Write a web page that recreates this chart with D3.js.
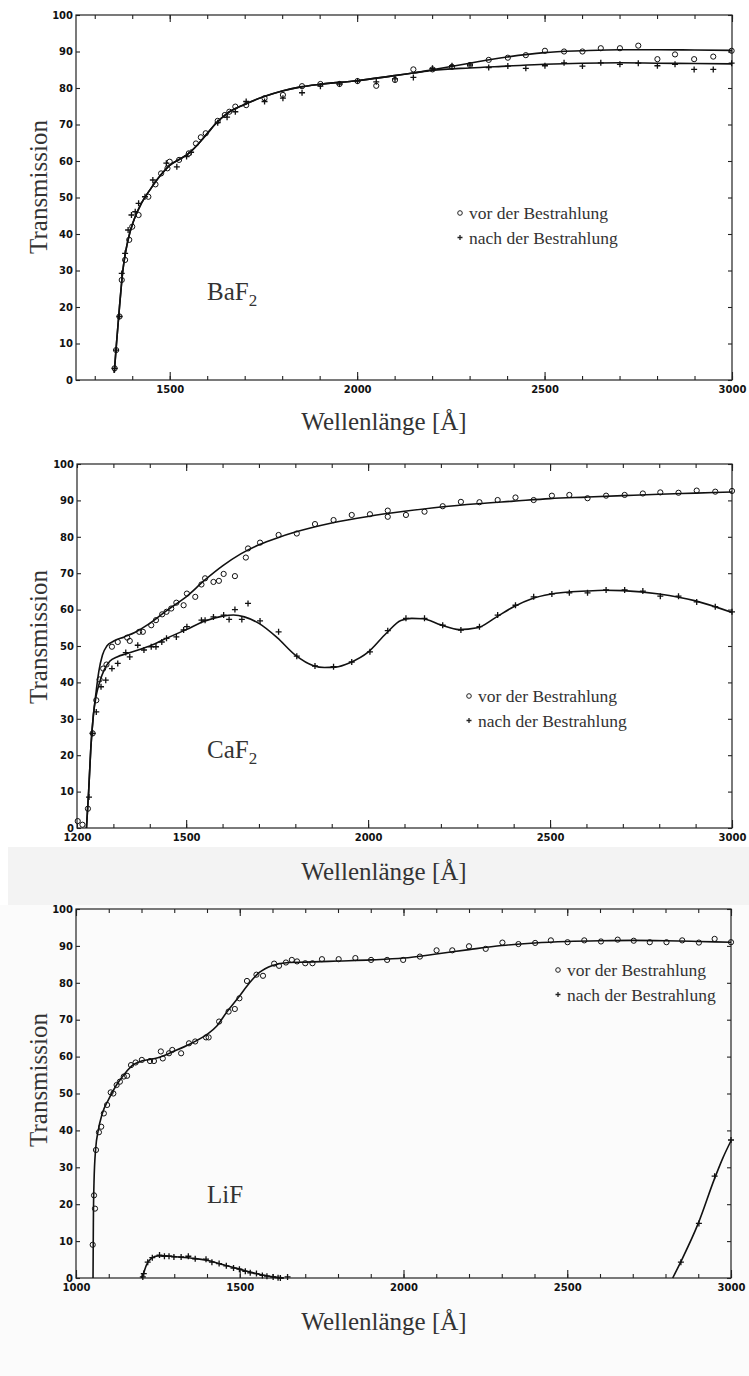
<!DOCTYPE html>
<html>
<head>
<meta charset="utf-8">
<script src="https://cdn.jsdelivr.net/npm/d3@7"></script>
<style>
body { margin: 0; background: #fff; }
svg { display: block; }
.serif { font-family: "Liberation Serif", "Times New Roman", serif; fill: #333; }
</style>
</head>
<body>
<svg id="chart" width="749" height="1376"></svg>
<script>
// ---- shared tick labels ----
var yTickLabels = [0, 10, 20, 30, 40, 50, 60, 70, 80, 90, 100];
var baf2XLabels = [1500, 2000, 2500, 3000];
var caf2XLabels = [1200, 1500, 2000, 2500, 3000];
var lifXLabels = [1000, 1500, 2000, 2500, 3000];
var legendLabels = ["vor der Bestrahlung", "nach der Bestrahlung"];

// ---- BaF2 ----
var baf2Vor = [[1353,3.2],[1357,8.2],[1366,17.4],[1372,27.4],[1381,32.9],[1392,38.4],[1400,42],[1417,45.2],
  [1443,50.2],[1462,53.6],[1477,56.6],[1494,58],[1500,59.8],[1525,60.3],[1551,62.1],[1570,64.8],[1583,66.5],
  [1596,67.6],[1628,71],[1647,72.6],[1659,73.5],[1675,74.9],[1704,75.3],[1753,77.2],[1802,78.1],[1853,80.5],
  [1902,81.1],[1953,81.1],[2001,81.9],[2051,80.6],[2101,82.2],[2150,85.1],[2201,85.1],[2253,85.8],[2301,86.3],
  [2351,87.7],[2402,88.3],[2450,89],[2501,90.2],[2552,90],[2601,90],[2650,90.9],[2701,90.9],[2750,91.6],
  [2801,87.9],[2848,89.2],[2899,87.9],[2950,88.6],[2999,90.2]];
var baf2Nach = [[1353,3.2],[1357,8.2],[1366,17.4],[1372,29.2],[1381,34.7],[1389,41.1],[1398,45.2],[1408,46.1],
  [1417,48.4],[1434,50.2],[1455,54.8],[1491,59.4],[1519,58.4],[1545,61.2],[1557,62.4],[1628,70.5],[1653,72],
  [1675,73.5],[1704,76.3],[1753,76.3],[1802,77.2],[1853,78.7],[1902,80.5],[1953,81.1],[2001,81.9],[2051,81.7],
  [2101,82.5],[2150,82.9],[2201,85.4],[2253,86.1],[2301,86.3],[2351,85.6],[2402,86],[2450,85.4],[2501,86.1],
  [2552,86.9],[2601,86],[2650,86.9],[2701,86.5],[2750,86.8],[2801,86.1],[2848,86.5],[2899,85.1],[2950,85.1],
  [2999,86.8]];
var baf2VorFit = [[1352,2],[1358,10],[1366,20],[1375,30],[1388,38],[1405,44],[1425,48.5],[1450,52.5],[1475,56],
  [1500,58.8],[1525,60.4],[1550,62],[1575,64.5],[1600,67.5],[1625,70.5],[1650,72.8],[1700,75.5],[1750,77.6],
  [1800,79.2],[1850,80.3],[1900,81],[2000,82],[2100,83.4],[2150,84.1],[2200,85],[2300,86.8],[2400,88.5],
  [2500,89.7],[2600,90.2],[2700,90.5],[2800,90.5],[2900,90.4],[3000,90.3]];
var baf2NachFit = [[1352,2],[1358,10],[1366,20],[1375,30],[1388,38],[1405,44],[1425,48.5],[1450,52.5],[1475,56],
  [1500,58.8],[1525,60.4],[1550,62],[1575,64.5],[1600,67.5],[1625,70.5],[1650,72.8],[1700,75.5],[1750,77.6],
  [1800,79.2],[1850,80.3],[1900,81],[2000,82],[2100,83.4],[2150,84.1],[2200,84.8],[2300,85.5],[2400,86],
  [2500,86.5],[2600,86.8],[2700,86.9],[2800,86.8],[2900,86.7],[3000,86.6]];

// ---- CaF2 ----
var caf2Vor = [[1202,1.9],[1215,0.9],[1230,5.3],[1243,26],[1253,35.1],[1262,40.8],[1272,43.8],[1281,44.9],
  [1296,49.8],[1312,51.1],[1338,52.3],[1345,51.4],[1371,53.9],[1381,53.9],[1404,55.7],[1417,57.1],[1434,58.7],
  [1446,59.4],[1459,60.3],[1473,61.9],[1493,61.2],[1502,64.4],[1525,63.5],[1542,66.9],[1552,68.6],[1575,67.6],
  [1590,67.9],[1603,69.8],[1634,69.2],[1664,74.3],[1670,76.8],[1703,78.4],[1754,80.5],[1804,80.9],[1854,83.5],
  [1905,84.6],[1955,86],[2005,86.2],[2054,87.2],[2054,85.5],[2104,86],[2155,86.9],[2205,88.4],[2255,89.6],
  [2306,89.5],[2356,90.1],[2405,90.8],[2455,90.1],[2505,91.3],[2553,91.5],[2603,90.6],[2654,91.3],[2705,91.5],
  [2755,91.9],[2803,92.2],[2853,92.1],[2903,92.7],[2954,92.4],[3000,92.6]];
var caf2Nach = [[1233,8.5],[1243,26],[1253,31.9],[1266,38.8],[1279,40.6],[1296,43.8],[1312,45.2],[1334,48.2],
  [1345,47],[1367,50.2],[1384,48.9],[1404,49.8],[1417,49.8],[1433,51.1],[1446,52.1],[1473,52.5],[1493,54.4],
  [1502,55.3],[1542,57.1],[1552,57.1],[1575,58],[1603,58.5],[1618,57.3],[1634,60],[1653,57.3],[1670,61.7],
  [1703,56.9],[1754,53.9],[1804,47.2],[1854,44.5],[1905,44.3],[1955,45.6],[2005,48.4],[2054,54.2],[2104,57.6],
  [2155,57.6],[2205,55.7],[2255,54.4],[2306,55.3],[2356,58.5],[2405,61.2],[2455,63.5],[2505,64.3],[2553,64.6],
  [2603,64.6],[2654,65.4],[2705,65.4],[2755,65.1],[2803,63.7],[2853,63.7],[2903,62.1],[2954,60.8],[3000,59.4]];
var caf2VorFit = [[1226,0],[1232,10],[1238,22],[1245,31],[1252,37],[1260,43],[1270,47.5],[1282,50],[1300,51.3],
  [1330,52.5],[1360,53.8],[1400,56.2],[1450,60],[1500,63.5],[1550,68],[1600,72],[1650,75.3],[1700,77.8],
  [1750,79.7],[1800,81.3],[1900,83.8],[2000,85.6],[2100,87],[2200,88.2],[2300,89.1],[2400,89.8],[2500,90.5],
  [2600,90.9],[2700,91.3],[2800,91.7],[2900,92],[3000,92.3]];
var caf2NachFit = [[1226,0],[1232,10],[1238,22],[1245,31],[1252,36],[1262,40],[1275,43.5],[1290,45.8],[1310,47],
  [1340,48],[1370,49],[1400,50],[1450,52.3],[1500,54.5],[1550,56.8],[1600,58.2],[1630,58.5],[1660,58],
  [1700,56.2],[1750,52.3],[1800,47.5],[1850,44.6],[1880,44.1],[1910,44.2],[1950,45.4],[2000,48.3],[2050,53.5],
  [2090,57],[2120,57.6],[2150,57.5],[2200,55.8],[2250,54.5],[2300,55],[2350,57.8],[2400,60.8],[2450,63],
  [2500,64.2],[2600,65.1],[2650,65.3],[2700,65.2],[2800,64.3],[2900,62.4],[3000,59.2]];

// ---- LiF ----
var lifVor = [[1051,9],[1055,22.4],[1058,18.8],[1061,34.7],[1070,39.5],[1077,41],[1085,44.6],[1095,46.9],
  [1106,50.3],[1114,50],[1124,52.3],[1134,53.2],[1146,54.6],[1156,54.8],[1168,57.7],[1182,58.4],[1201,59.1],
  [1226,58.8],[1238,58.8],[1259,61.4],[1265,59.5],[1284,60.9],[1294,61.8],[1321,60.9],[1345,63.6],[1364,64.1],
  [1397,65.2],[1405,65.2],[1437,69.5],[1466,72.2],[1485,72.9],[1499,75.8],[1522,80.5],[1551,82.2],[1571,81.9],
  [1605,85.2],[1620,84.6],[1641,85.5],[1659,86.2],[1675,85.8],[1700,85.3],[1722,85.3],[1751,86.4],[1802,86.4],
  [1853,86.7],[1901,86.2],[1950,86.2],[1999,86.2],[2050,87.1],[2101,88.8],[2149,88.8],[2200,89.9],[2251,89.2],
  [2302,90.9],[2351,90.5],[2402,90.8],[2450,91.5],[2501,91],[2552,91.5],[2603,91.2],[2654,91.7],[2703,91.4],
  [2752,91],[2803,91],[2851,91.5],[2902,90.9],[2950,91.9],[3000,91]];
var lifNach = [[1204,0.3],[1207,1.2],[1219,4.3],[1233,5.5],[1255,6.2],[1270,5.9],[1284,5.9],[1299,5.7],
  [1321,5.7],[1343,5.9],[1364,5.2],[1397,5.1],[1415,4.3],[1437,3.9],[1459,3.3],[1481,2.7],[1499,2.4],
  [1517,1.8],[1532,1.4],[1551,1.2],[1569,0.7],[1583,0.5],[1602,0.3],[1617,0.1],[1624,0],[1646,0.3],
  [2847,4.3],[2902,14.8],[2950,27.6],[3000,37.4]];
var lifVorFit = [[1052,0],[1053,15],[1055,26],[1060,35],[1068,40],[1080,44.5],[1100,48.5],[1125,52.5],
  [1150,55.5],[1175,57.8],[1200,58.8],[1225,59.2],[1250,59.7],[1300,61.5],[1350,63.5],[1400,66],[1430,68.3],
  [1460,72],[1500,76.5],[1530,80],[1560,82.8],[1600,84.7],[1650,85.5],[1700,85.6],[1800,85.9],[1900,86.2],
  [2000,86.7],[2100,87.8],[2200,89],[2300,90.1],[2400,90.8],[2500,91.2],[2600,91.4],[2700,91.5],[2800,91.4],
  [2900,91.2],[3000,91]];
var lifNachFitLow = [[1200,0],[1205,1],[1215,3.5],[1230,5.3],[1250,6],[1270,6],[1300,5.8],[1350,5.4],
  [1400,4.8],[1450,3.6],[1500,2.4],[1550,1.2],[1600,0.3],[1635,0]];
var lifNachFitHigh = [[2822,0],[2850,5],[2900,14.8],[2950,27],[2975,32.5],[3000,37.2]];

var svg = d3.select("#chart");

// scanned background tones of the lower part
svg.append("rect").attr("x", 8).attr("y", 847).attr("width", 741).attr("height", 58).attr("fill", "#f3f3f3");
svg.append("rect").attr("x", 0).attr("y", 905).attr("width", 749).attr("height", 471).attr("fill", "#fbfbfb");

var panels = [
  {name: "BaF", sub: "2", xDomain: [1250, 3000], xLabels: baf2XLabels, left: 76, right: 732, top: 15, bottom: 380,
   vor: baf2Vor, nach: baf2Nach, fits: [baf2VorFit, baf2NachFit], legendX: 460, legendY: 213, titleY: 430, ylabelY: 187},
  {name: "CaF", sub: "2", xDomain: [1200, 3000], xLabels: caf2XLabels, left: 77, right: 732, top: 464, bottom: 828,
   vor: caf2Vor, nach: caf2Nach, fits: [caf2VorFit, caf2NachFit], legendX: 469, legendY: 696, titleY: 880, ylabelY: 637},
  {name: "LiF", sub: "", xDomain: [1000, 3000], xLabels: lifXLabels, left: 76, right: 731, top: 909, bottom: 1278,
   vor: lifVor, nach: lifNach, fits: [lifVorFit, lifNachFitLow, lifNachFitHigh], legendX: 558, legendY: 970, titleY: 1330, ylabelY: 1080}
];

var plusPath = "M-3,0H3M0,-3V3";

function styleAxis(a) {
  a.select(".domain").remove();
  a.selectAll(".tick line").attr("stroke", "#222").attr("stroke-width", 1.1);
  a.selectAll(".tick text").attr("font-family", "'DejaVu Sans', sans-serif")
    .attr("font-weight", "bold").attr("font-size", 10).attr("fill", "#111");
}

panels.forEach(function(p) {
  var g = svg.append("g");
  var x = d3.scaleLinear().domain(p.xDomain).range([p.left, p.right]);
  var y = d3.scaleLinear().domain([0, 100]).range([p.bottom, p.top]);

  var minor = d3.range(Math.ceil(p.xDomain[0] / 100) * 100, p.xDomain[1] + 1, 100);
  var major = minor.filter(function(v) { return v % 500 === 0; });

  // ticks pointing inward on all four sides
  g.append("g").attr("transform", "translate(0," + p.bottom + ")")
    .call(d3.axisBottom(x).tickValues(minor).tickSize(-4).tickFormat("")).call(styleAxis);
  g.append("g").attr("transform", "translate(0," + p.bottom + ")")
    .call(d3.axisBottom(x).tickValues(major).tickSize(-8).tickFormat("")).call(styleAxis);
  g.append("g").attr("transform", "translate(0," + p.top + ")")
    .call(d3.axisTop(x).tickValues(minor).tickSize(-4).tickFormat("")).call(styleAxis);
  g.append("g").attr("transform", "translate(0," + p.top + ")")
    .call(d3.axisTop(x).tickValues(major).tickSize(-7).tickFormat("")).call(styleAxis);
  g.append("g").attr("transform", "translate(0," + p.bottom + ")")
    .call(d3.axisBottom(x).tickValues(p.xLabels).tickSize(0).tickPadding(6).tickFormat(d3.format("d"))).call(styleAxis);
  g.append("g").attr("transform", "translate(" + p.left + ",0)")
    .call(d3.axisLeft(y).tickValues(yTickLabels).tickSize(-4).tickPadding(3)).call(styleAxis);
  g.append("g").attr("transform", "translate(" + p.right + ",0)")
    .call(d3.axisRight(y).tickValues(yTickLabels).tickSize(-4).tickFormat("")).call(styleAxis);

  // frame
  g.append("rect").attr("x", p.left).attr("y", p.top)
    .attr("width", p.right - p.left).attr("height", p.bottom - p.top)
    .attr("fill", "none").attr("stroke", "#222").attr("stroke-width", 1.2);

  // fitted curves
  var line = d3.line()
    .x(function(d) { return x(d[0]); })
    .y(function(d) { return y(d[1]); })
    .curve(d3.curveMonotoneX);
  p.fits.forEach(function(f) {
    g.append("path").attr("d", line(f)).attr("fill", "none")
      .attr("stroke", "#111").attr("stroke-width", 1.6);
  });

  // measured points
  g.selectAll(".vor").data(p.vor).enter().append("circle")
    .attr("cx", function(d) { return x(d[0]); })
    .attr("cy", function(d) { return y(d[1]); })
    .attr("r", 2.6).attr("fill", "none").attr("stroke", "#111").attr("stroke-width", 1);
  g.selectAll(".nach").data(p.nach).enter().append("path")
    .attr("transform", function(d) { return "translate(" + x(d[0]) + "," + y(d[1]) + ")"; })
    .attr("d", plusPath).attr("stroke", "#111").attr("stroke-width", 1.3);

  // axis titles
  g.append("text").attr("class", "serif")
    .attr("transform", "translate(38," + p.ylabelY + ") rotate(-90)")
    .attr("text-anchor", "middle").attr("dy", "0.35em")
    .attr("font-size", 25).text("Transmission");
  g.append("text").attr("class", "serif")
    .attr("x", 384).attr("y", p.titleY).attr("text-anchor", "middle")
    .attr("font-size", 25).text("Wellenlänge [Å]");

  // material label
  var lab = g.append("text").attr("class", "serif")
    .attr("x", 207).attr("y", p.name === "BaF" ? 300 : (p.name === "CaF" ? 758 : 1203))
    .attr("font-size", 25).text(p.name);
  if (p.sub) lab.append("tspan").attr("font-size", 17).attr("dy", 6).text(p.sub);

  // legend
  legendLabels.forEach(function(txt, i) {
    var ly = p.legendY + i * 24.5;
    if (i === 0) {
      g.append("circle").attr("cx", p.legendX).attr("cy", ly).attr("r", 2.3)
        .attr("fill", "none").attr("stroke", "#222").attr("stroke-width", 1);
    } else {
      g.append("path").attr("transform", "translate(" + p.legendX + "," + ly + ")")
        .attr("d", "M-2.5,0H2.5M0,-2.5V2.5").attr("stroke", "#222").attr("stroke-width", 1.3);
    }
    g.append("text").attr("class", "serif")
      .attr("x", p.legendX + 9).attr("y", ly + 6)
      .attr("font-size", 17.5).text(txt);
  });
});
</script>
</body>
</html>
